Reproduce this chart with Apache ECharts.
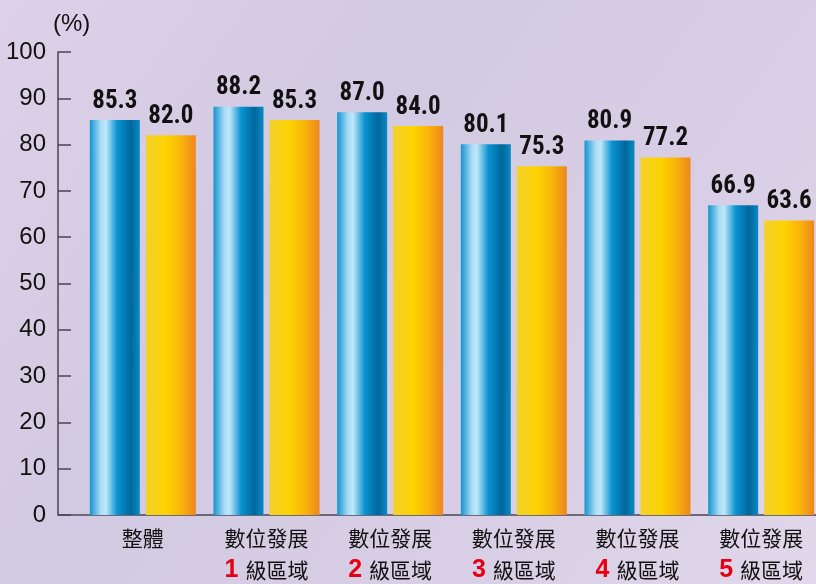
<!DOCTYPE html>
<html>
<head>
<meta charset="utf-8">
<script src="https://cdn.jsdelivr.net/npm/echarts@6/dist/echarts.min.js"></script>
<style>
  html, body { margin: 0; padding: 0; }
  #chart { width: 816px; height: 584px; }
</style>
</head>
<body>
<div id="chart"></div>
<script>
// categories: first line text, region number (red), second line text
var catTop = ['整體', '數位發展', '數位發展', '數位發展', '數位發展', '數位發展'];
var catNum = ['', '1', '2', '3', '4', '5'];
var catBottom = ['', '級區域', '級區域', '級區域', '級區域', '級區域'];

var blueValues = [85.3, 88.2, 87.0, 80.1, 80.9, 66.9];
var yellowValues = [82.0, 85.3, 84.0, 75.3, 77.2, 63.6];

var yTicks = [0, 10, 20, 30, 40, 50, 60, 70, 80, 90, 100];

var categories = catTop.map(function (t, i) { return i; });

var myChart = echarts.init(document.getElementById('chart'));

var blueGrad = new echarts.graphic.LinearGradient(0, 0, 1, 0, [
  { offset: 0, color: '#1493d0' },
  { offset: 0.22, color: '#a9dcf6' },
  { offset: 0.32, color: '#bfe7fa' },
  { offset: 0.55, color: '#0a93d1' },
  { offset: 0.82, color: '#00679c' },
  { offset: 1, color: '#0a8ac6' }
]);
var yellowGrad = new echarts.graphic.LinearGradient(0, 0, 1, 0, [
  { offset: 0, color: '#f2d12c' },
  { offset: 0.4, color: '#fdd300' },
  { offset: 0.7, color: '#f8b60a' },
  { offset: 1, color: '#ee861e' }
]);

var valueLabel = {
  show: true,
  position: 'top',
  distance: 6,
  color: '#111',
  fontFamily: 'Liberation Sans Narrow, Roboto Condensed, Liberation Sans',
  fontWeight: 'bold',
  fontSize: 25,
  formatter: function (p) { return p.value.toFixed(1); }
};

var option = {
  backgroundColor: new echarts.graphic.LinearGradient(0, 0, 1, 1, [
    { offset: 0, color: '#dcd1e8' },
    { offset: 0.35, color: '#d2cae2' },
    { offset: 0.7, color: '#d8cfe6' },
    { offset: 1, color: '#e0d7ea' }
  ]),
  animation: false,
  grid: { left: 81, right: -7, top: 52, bottom: 69, outerBoundsMode: 'none', containLabel: false },
  graphic: [
    {
      type: 'text',
      left: 53, top: 12,
      style: { text: '(%)', fontSize: 24, fill: '#111', fontFamily: 'Liberation Sans' }
    },
    {
      // extend the base line to the y axis
      type: 'line',
      shape: { x1: 58, y1: 515, x2: 82, y2: 515 },
      style: { stroke: '#6d6878', lineWidth: 2 }
    }
  ],
  xAxis: {
    type: 'category',
    data: categories,
    axisLine: { show: true, lineStyle: { color: '#6d6878', width: 2 } },
    axisTick: { show: false },
    axisLabel: {
      interval: 0,
      hideOverlap: false,
      margin: 7,
      lineHeight: 32,
      formatter: function (v) {
        var i = +v;
        var s = '{t|' + catTop[i] + '}';
        if (catNum[i]) s += '\n{n|' + catNum[i] + '}{sp| }{t|' + catBottom[i] + '}';
        return s;
      },
      rich: {
        t: { fontSize: 21, color: '#111', fontFamily: 'Noto Sans CJK TC', lineHeight: 32 },
        sp: { fontSize: 21, width: 7, lineHeight: 32 },
        n: { fontSize: 25, color: '#e60012', fontWeight: 'bold', fontFamily: 'Liberation Sans', lineHeight: 32 }
      }
    }
  },
  yAxis: {
    type: 'value',
    min: yTicks[0],
    max: yTicks[yTicks.length - 1],
    interval: 10,
    offset: 23,
    axisLine: { show: true, lineStyle: { color: '#4a4650', width: 1.5 } },
    axisTick: { show: true, inside: true, length: 13, lineStyle: { color: '#4a4650', width: 1.5 } },
    splitLine: { show: false },
    axisLabel: {
      margin: 12,
      color: '#111',
      fontSize: 24,
      fontFamily: 'Liberation Sans'
    }
  },
  series: [
    {
      type: 'bar',
      data: blueValues,
      barWidth: 50,
      barGap: '12%',
      itemStyle: { color: blueGrad },
      label: valueLabel
    },
    {
      type: 'bar',
      data: yellowValues,
      barWidth: 50,
      itemStyle: { color: yellowGrad },
      label: valueLabel
    }
  ]
};

myChart.setOption(option);
</script>
</body>
</html>
